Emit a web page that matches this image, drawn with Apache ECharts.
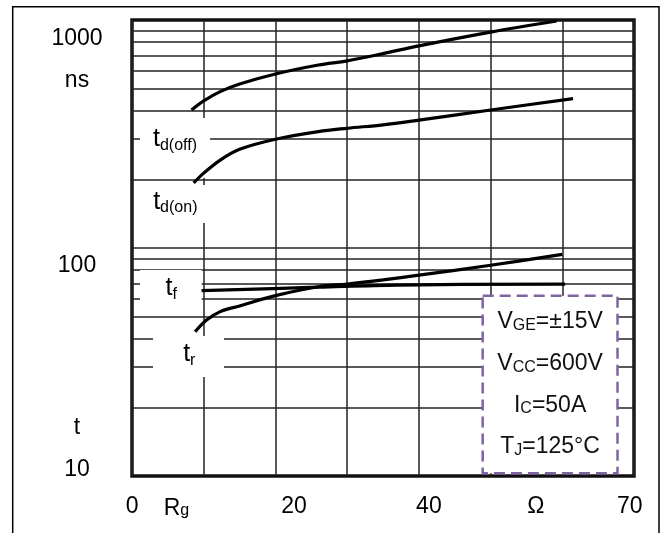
<!DOCTYPE html>
<html><head><meta charset="utf-8">
<script src="https://cdn.jsdelivr.net/npm/echarts@6/dist/echarts.min.js"></script>
<style>html,body{margin:0;padding:0;background:#fff}#c{width:667px;height:533px}</style>
</head><body><div id="c"></div>
<script>
// ---- data (x: gate resistance Rg in ohm, y: switching time in ns) ----
const tdOff = [[8.3,403],[10,442],[12.3,485],[15,524],[20,580],[26,635],[30,662],[35,712],[40,770],[50,885],[59.2,990]];
const tdOn  = [[8.6,193],[10,213],[12.3,243],[15,271],[20,300],[26,324],[30,335],[35,347],[40,364],[50,403],[61.5,452]];
const tF    = [[9.7,65],[26,67.3],[37,68.8],[60.4,69.5]];
const tR    = [[8.8,42.9],[10.4,48.3],[12.3,52.6],[15,55.7],[20,61.8],[26,67.6],[30,69.5],[35,72.5],[40,76],[50,84],[60,93.8]];

// grid lines of the log axis
const hGrid = [20,30,40,50,60,70,80,90,100,200,300,400,500,600,700,800,900];

// tick labels (x in ohm; y in log10(ns))
const xTickVals = [0.03, 6.2, 22.6, 41.4, 56.3, 69.4];
const xTickText = ['0', '{m|R}{s|g}', '20', '40', 'Ω', '70'];
const yTickVals = [2.9167, 2.7338, 1.9224, 1.2132, 1.0263];
const yTickText = ['1000', 'ns', '100', 't', '10'];

// curve name labels
const curveLabels = [
  {sub:'d(off)', x:6.0,  y:299.5},
  {sub:'d(on)',  x:6.04, y:159.6},
  {sub:'f',      x:5.46, y:66.5},
  {sub:'r',      x:7.99, y:34.15}
];
// white boxes behind the labels [x1,y1,x2,y2]
const labelBoxes = [
  [1.12,371.5,10.88,203],
  [1.12,189,10.88,128.7],
  [1.12,80.1,9.72,52.4],
  [2.93,41.1,12.83,27.2]
];
const condBox = [48.9,61.8,67.7,10.28];
const condText = '{m|V}{s|GE}{m|=±15V}\n{m|V}{s|CC}{m|=600V}\n{m|I}{s|C}{m|=50A}\n{m|T}{s|J}{m|=125°C}';

const FONT = 'Arial, "Liberation Sans", sans-serif';
function nearest(vals, texts, v){
  let b = 0;
  for (let i = 1; i < vals.length; i++) if (Math.abs(vals[i]-v) < Math.abs(vals[b]-v)) b = i;
  return texts[b];
}
const lineBase = {type:'line', smooth:0.35, showSymbol:false, symbol:'none', silent:true,
  lineStyle:{color:'#000', width:3.2}, itemStyle:{color:'#000'}, z:2, animation:false};

const chart = echarts.init(document.getElementById('c'));
chart.setOption({
  animation:false,
  textStyle:{fontFamily:FONT},
  graphic:[{type:'rect', silent:true, shape:{x:12.7, y:6.7, width:646.3, height:560},
    style:{fill:'none', stroke:'#000', lineWidth:1.5}}],
  grid:{left:132, right:33, top:20, bottom:57, show:true, borderColor:'#111', borderWidth:3.5, backgroundColor:'transparent'},
  xAxis:[{type:'value', min:0, max:70, interval:10,
    axisLine:{show:false}, axisTick:{show:false},
    splitLine:{show:true, lineStyle:{color:'#222', width:1.5}},
    axisLabel:{customValues:xTickVals, margin:19, color:'#000', fontSize:23, fontFamily:FONT,
      formatter:v=>nearest(xTickVals, xTickText, v),
      rich:{m:{fontSize:23, lineHeight:27, fontFamily:FONT, color:'#000'},
            s:{fontSize:16, lineHeight:16, padding:[5,0,0,0], fontFamily:FONT, color:'#000'}}}
  }],
  yAxis:[
    {type:'log', logBase:10, min:10, max:1000, axisLine:{show:false}, axisTick:{show:false},
     axisLabel:{show:false}, splitLine:{show:false}},
    {type:'value', min:1, max:3, position:'left', axisLine:{show:false}, axisTick:{show:false},
     splitLine:{show:false},
     axisLabel:{customValues:yTickVals, align:'center', margin:55, color:'#000', fontSize:23, fontFamily:FONT,
       formatter:v=>nearest(yTickVals, yTickText, v)}}
  ],
  series:[
    Object.assign({}, lineBase, {name:'td(off)', data:tdOff}),
    Object.assign({}, lineBase, {name:'td(on)', data:tdOn}),
    Object.assign({}, lineBase, {name:'tr', data:tR}),
    Object.assign({}, lineBase, {name:'tf', data:tF,
      markLine:{silent:true, z:0, symbol:['none','none'], animation:false,
        label:{show:false}, emphasis:{disabled:true},
        lineStyle:{color:'#222', width:1.5, type:'solid'},
        data:hGrid.map(v=>({yAxis:v}))},
      markArea:{silent:true, z:1, animation:false, emphasis:{disabled:true},
        itemStyle:{color:'#fff', opacity:1, borderWidth:0},
        data: labelBoxes.map(b=>[{coord:[b[0],b[1]]},{coord:[b[2],b[3]]}]).concat([[
          {coord:[condBox[0],condBox[1]],
           itemStyle:{color:'#fff', borderColor:'#8064a2', borderWidth:2.5, borderType:[11,6]},
           label:{show:true, position:'inside', formatter:condText,
             rich:{m:{fontSize:23, lineHeight:41.7, color:'#111', fontFamily:FONT},
                   s:{fontSize:16, lineHeight:16, padding:[7,0,0,0], color:'#111', fontFamily:FONT}}}},
          {coord:[condBox[2],condBox[3]]}]])},
      markPoint:{silent:true, z:5, animation:false, symbol:'rect', symbolSize:1,
        itemStyle:{color:'rgba(0,0,0,0)'},
        label:{show:true, position:'inside',
          rich:{m:{fontSize:25, lineHeight:30, color:'#000', fontFamily:FONT},
                s:{fontSize:16, lineHeight:16, padding:[12,0,0,0], color:'#000', fontFamily:FONT}}},
        data:curveLabels.map(l=>({coord:[l.x,l.y], label:{formatter:'{m|t}{s|'+l.sub+'}'}}))}
    })
  ]
});
</script></body></html>
